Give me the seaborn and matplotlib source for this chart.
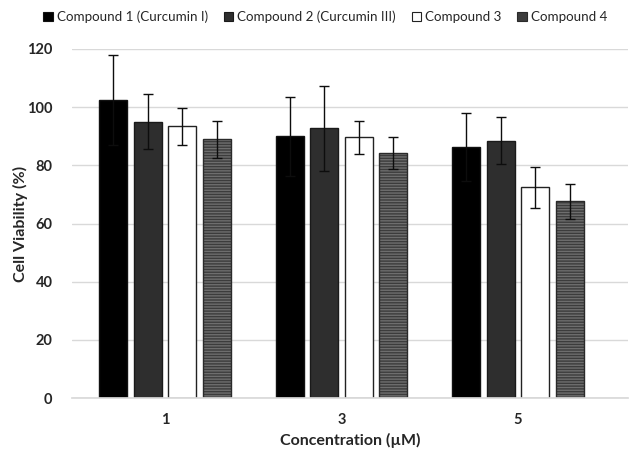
import matplotlib
matplotlib.use("Agg")
import matplotlib.pyplot as plt
import seaborn as sns
import pandas as pd
import numpy as np
from matplotlib.patches import Patch

concentrations = ["1", "3", "5"]
compounds = ["Compound 1 (Curcumin I)", "Compound 2 (Curcumin III)", "Compound 3", "Compound 4"]
viability = {
    "Compound 1 (Curcumin I)": [102.5, 90.0, 86.3],
    "Compound 2 (Curcumin III)": [95.0, 92.7, 88.5],
    "Compound 3": [93.4, 89.6, 72.5],
    "Compound 4": [88.9, 84.1, 67.6],
}
errors = {
    "Compound 1 (Curcumin I)": [15.5, 13.5, 11.7],
    "Compound 2 (Curcumin III)": [9.4, 14.6, 8.0],
    "Compound 3": [6.4, 5.6, 7.0],
    "Compound 4": [6.4, 5.5, 6.0],
}
yticks = [0, 20, 40, 60, 80, 100, 120]

sns.set_theme(style="white")
plt.rcParams["font.family"] = ["Lato", "DejaVu Sans"]

rows = []
for c in compounds:
    for conc, v, e in zip(concentrations, viability[c], errors[c]):
        rows.append({"Concentration": conc, "Compound": c, "Viability": v, "Err": e})
df = pd.DataFrame(rows)

faces = {"Compound 1 (Curcumin I)": "#000000",
         "Compound 2 (Curcumin III)": "#2e2e2e",
         "Compound 3": "#ffffff",
         "Compound 4": "#3c3c3c"}
edges = {"Compound 1 (Curcumin I)": "#111111",
         "Compound 2 (Curcumin III)": "#1a1a1a",
         "Compound 3": "#222222",
         "Compound 4": "#2a2a2a"}

fig = plt.figure(figsize=(6.29, 4.49), dpi=100)
ax = fig.add_axes([72/629, 1-398/449, 556/629, (398-49)/449])

sns.barplot(data=df, x="Concentration", y="Viability", hue="Compound",
            hue_order=compounds, order=concentrations, palette=faces,
            errorbar=None, width=0.78, gap=0.18, ax=ax, legend=False,
            saturation=1)

n = len(concentrations)
plt.rcParams["hatch.linewidth"] = 0.8
for i, c in enumerate(compounds):
    bars = ax.patches[i*n:(i+1)*n]
    xs = [b.get_x() + b.get_width()/2 for b in bars]
    for b in bars:
        b.set_edgecolor(edges[c])
        b.set_linewidth(1.0)
        if c == "Compound 4":
            b.set_hatch("------")
            b._hatch_color = matplotlib.colors.to_rgba("#6e6e6e")
    ax.errorbar(xs, viability[c], yerr=errors[c], fmt="none",
                ecolor="#0d0d0d", elinewidth=1.0, capsize=3.5, capthick=1.0, zorder=5)

ax.set_ylim(0, 120)
ax.set_yticks(yticks)
xmin = -(165-72)/176.5
ax.set_xlim(xmin, xmin + 556/176.5)
ax.yaxis.grid(True, color="#d9d9d9", linewidth=1.0)
ax.set_axisbelow(True)
for s in ["top", "right", "left"]:
    ax.spines[s].set_visible(False)
ax.spines["bottom"].set_color("#d9d9d9")
ax.tick_params(axis="both", length=0, labelsize=10.5)
ax.tick_params(axis="y", pad=14)
ax.tick_params(axis="x", pad=11)
for lab in ax.get_xticklabels() + ax.get_yticklabels():
    lab.set_fontweight("bold")
ax.set_xlabel("Concentration (µM)", fontsize=11.5, fontweight="bold", labelpad=6)
ax.set_ylabel("Cell Viability (%)", fontsize=11.5, fontweight="bold", labelpad=6)
ax.yaxis.set_label_coords(-(72-20)/556, 0.5)
ax.xaxis.set_label_coords(0.5, -(440-398)/349, transform=ax.transAxes)
ax.xaxis.label.set_verticalalignment("center")
ax.yaxis.label.set_verticalalignment("center")

handles = []
for c in compounds:
    h = Patch(facecolor=faces[c], edgecolor=edges[c], linewidth=0.8)
    handles.append(h)
fig.legend(handles, compounds, loc="center", bbox_to_anchor=(0.517, 1-17/449),
           ncol=4, frameon=False, fontsize=9.6, handlelength=0.7, handleheight=0.7,
           handletextpad=0.3, columnspacing=1.2)

fig.savefig("out.png", dpi=100)
